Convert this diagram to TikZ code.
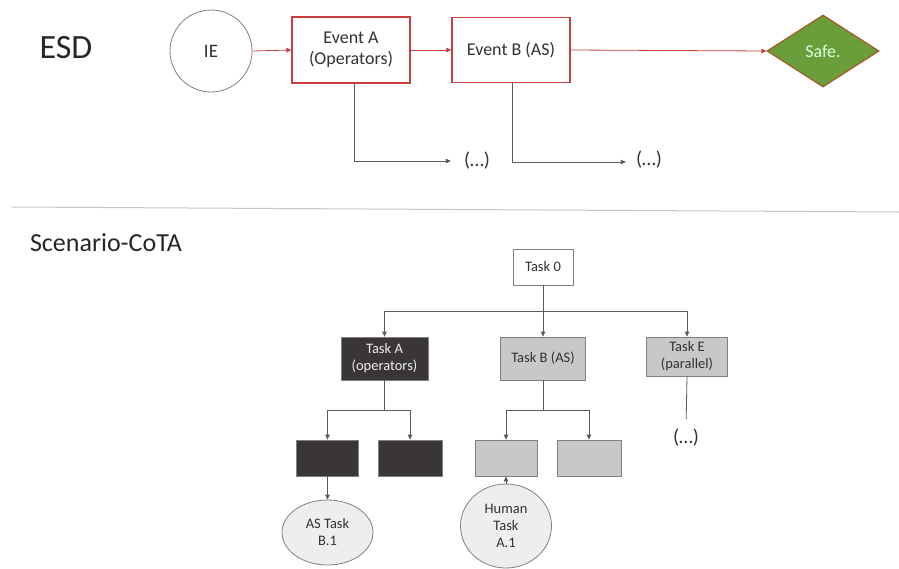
\documentclass[tikz,border=0pt]{standalone}
\usepackage{fontspec}
\setmainfont{Carlito}
\usetikzlibrary{arrows.meta,shapes.geometric}
\definecolor{evred}{RGB}{200,62,62}
\definecolor{safegreen}{RGB}{106,158,58}
\definecolor{safebrown}{RGB}{160,96,45}
\definecolor{darkbox}{RGB}{58,54,54}
\definecolor{lightbox}{RGB}{200,200,200}
\definecolor{ellfill}{RGB}{238,238,238}
\definecolor{linegray}{RGB}{90,90,90}
\definecolor{txtgray}{RGB}{50,50,50}
\tikzset{
  evbox/.style={draw=evred,line width=1.3pt,fill=white,minimum width=118pt,minimum height=66pt,align=center,font=\fontsize{18}{21}\selectfont,text=txtgray,inner sep=0pt},
  redarr/.style={draw=evred,line width=0.8pt,-{Triangle[length=5pt,width=4.5pt]}},
  grayarr/.style={draw=linegray,line width=0.8pt,-{Triangle[length=5pt,width=4.5pt]}},
  grayline/.style={draw=linegray,line width=0.8pt},
  dotstxt/.style={font=\fontsize{20}{24}\selectfont,text=txtgray,inner sep=0pt},
  taskbox/.style={draw=gray,line width=0.8pt,align=center,font=\fontsize{14.5}{17}\selectfont,inner sep=0pt},
  darktask/.style={taskbox,fill=darkbox,text=white!85!gray},
  lighttask/.style={taskbox,fill=lightbox,text=txtgray},
  ellnode/.style={ellipse,draw=gray,line width=0.8pt,fill=ellfill,align=center,font=\fontsize{14.5}{17}\selectfont,text=txtgray,inner sep=0pt}
}
\begin{document}
\begin{tikzpicture}[x=1pt,y=-1pt]
\useasboundingbox (0,0) rectangle (899,568);
% ESD section
\node[font=\fontsize{34}{40}\selectfont,text=black!85] (esd) at (66,48) {ESD};
\node[circle,draw=gray,line width=0.8pt,minimum size=82pt,inner sep=0pt,font=\fontsize{19}{22}\selectfont,text=txtgray] (ie) at (211,51) {IE};
\node[evbox] (evA) at (351,50) {Event A\\(Operators)};
\node[evbox,minimum height=65pt] (evB) at (511,50) {Event B (AS)};
\node[diamond,draw=safebrown,line width=1.3pt,fill=safegreen,minimum width=112pt,minimum height=72pt,inner sep=0pt,font=\fontsize{18}{21}\selectfont,text=green!15!white] (safe) at (823,51) {Safe.};
\draw[redarr] (ie.east) -- (evA.west);
\draw[redarr] (evA.east) -- (evB.west);
\draw[redarr] (evB.east) -- (safe.west);
\node[dotstxt] (dotsA) at (477,161) {(…)};
\node[dotstxt] (dotsB) at (649,160) {(…)};
\draw[grayarr,shorten >=13pt] ([xshift=3pt]evA.south) |- (dotsA.west);
\draw[grayarr,shorten >=10pt] ([xshift=1pt]evB.south) |- ([yshift=-2pt]dotsB.west);
% separator
\draw[gray!45,line width=1pt] (12,207) -- (899,212);
% Scenario-CoTA section
\node[font=\fontsize{26}{30}\selectfont,text=black!85] (scen) at (106,243) {Scenario-CoTA};
\node[taskbox,fill=white,text=txtgray,minimum width=60pt,minimum height=36pt] (t0) at (543,267) {Task 0};
\node[darktask,minimum width=87pt,minimum height=43pt] (tA) at (384.5,358.5) {Task A\\(operators)};
\node[lighttask,minimum width=85pt,minimum height=43pt] (tB) at (543,358.5) {Task B (AS)};
\node[lighttask,minimum width=81pt,minimum height=39pt] (tE) at (687,356.5) {Task E\\(parallel)};
\coordinate (j0) at (543,311);
\draw[grayline] (t0.south) -- (j0);
\draw[grayarr] (j0) -| (tA.north);
\draw[grayarr] (j0) -- (tB.north);
\draw[grayarr] (j0) -| (tE.north);
% children
\node[darktask,minimum width=62pt,minimum height=36pt] (a1) at (327.5,458) {};
\node[darktask,minimum width=64pt,minimum height=36pt] (a2) at (410,458) {};
\node[lighttask,minimum width=62pt,minimum height=36pt] (b1) at (506,458) {};
\node[lighttask,minimum width=64pt,minimum height=36pt] (b2) at (589,458) {};
\coordinate (jA) at (384.5,410);
\coordinate (jB) at (543,410);
\draw[grayline] (tA.south) -- (jA);
\draw[grayarr] (jA) -| (a1.north);
\draw[grayarr] (jA) -| (a2.north);
\draw[grayline] (tB.south) -- (jB);
\draw[grayarr] (jB) -| (b1.north);
\draw[grayarr] (jB) -| (b2.north);
\node[dotstxt] (dotsE) at (686,438) {(…)};
\draw[grayline,shorten >=10pt] (tE.south) -- (dotsE.north);
% ellipses
\node[ellnode,minimum width=91pt,minimum height=65pt] (asB) at (327.5,532.5) {AS Task\\B.1};
\node[ellnode,minimum width=91pt,minimum height=84pt] (hA) at (506,526) {Human\\Task\\A.1};
\draw[grayarr] (a1.south) -- (asB.north);
\draw[grayarr] (hA.north) -- (b1.south);
\end{tikzpicture}
\end{document}
